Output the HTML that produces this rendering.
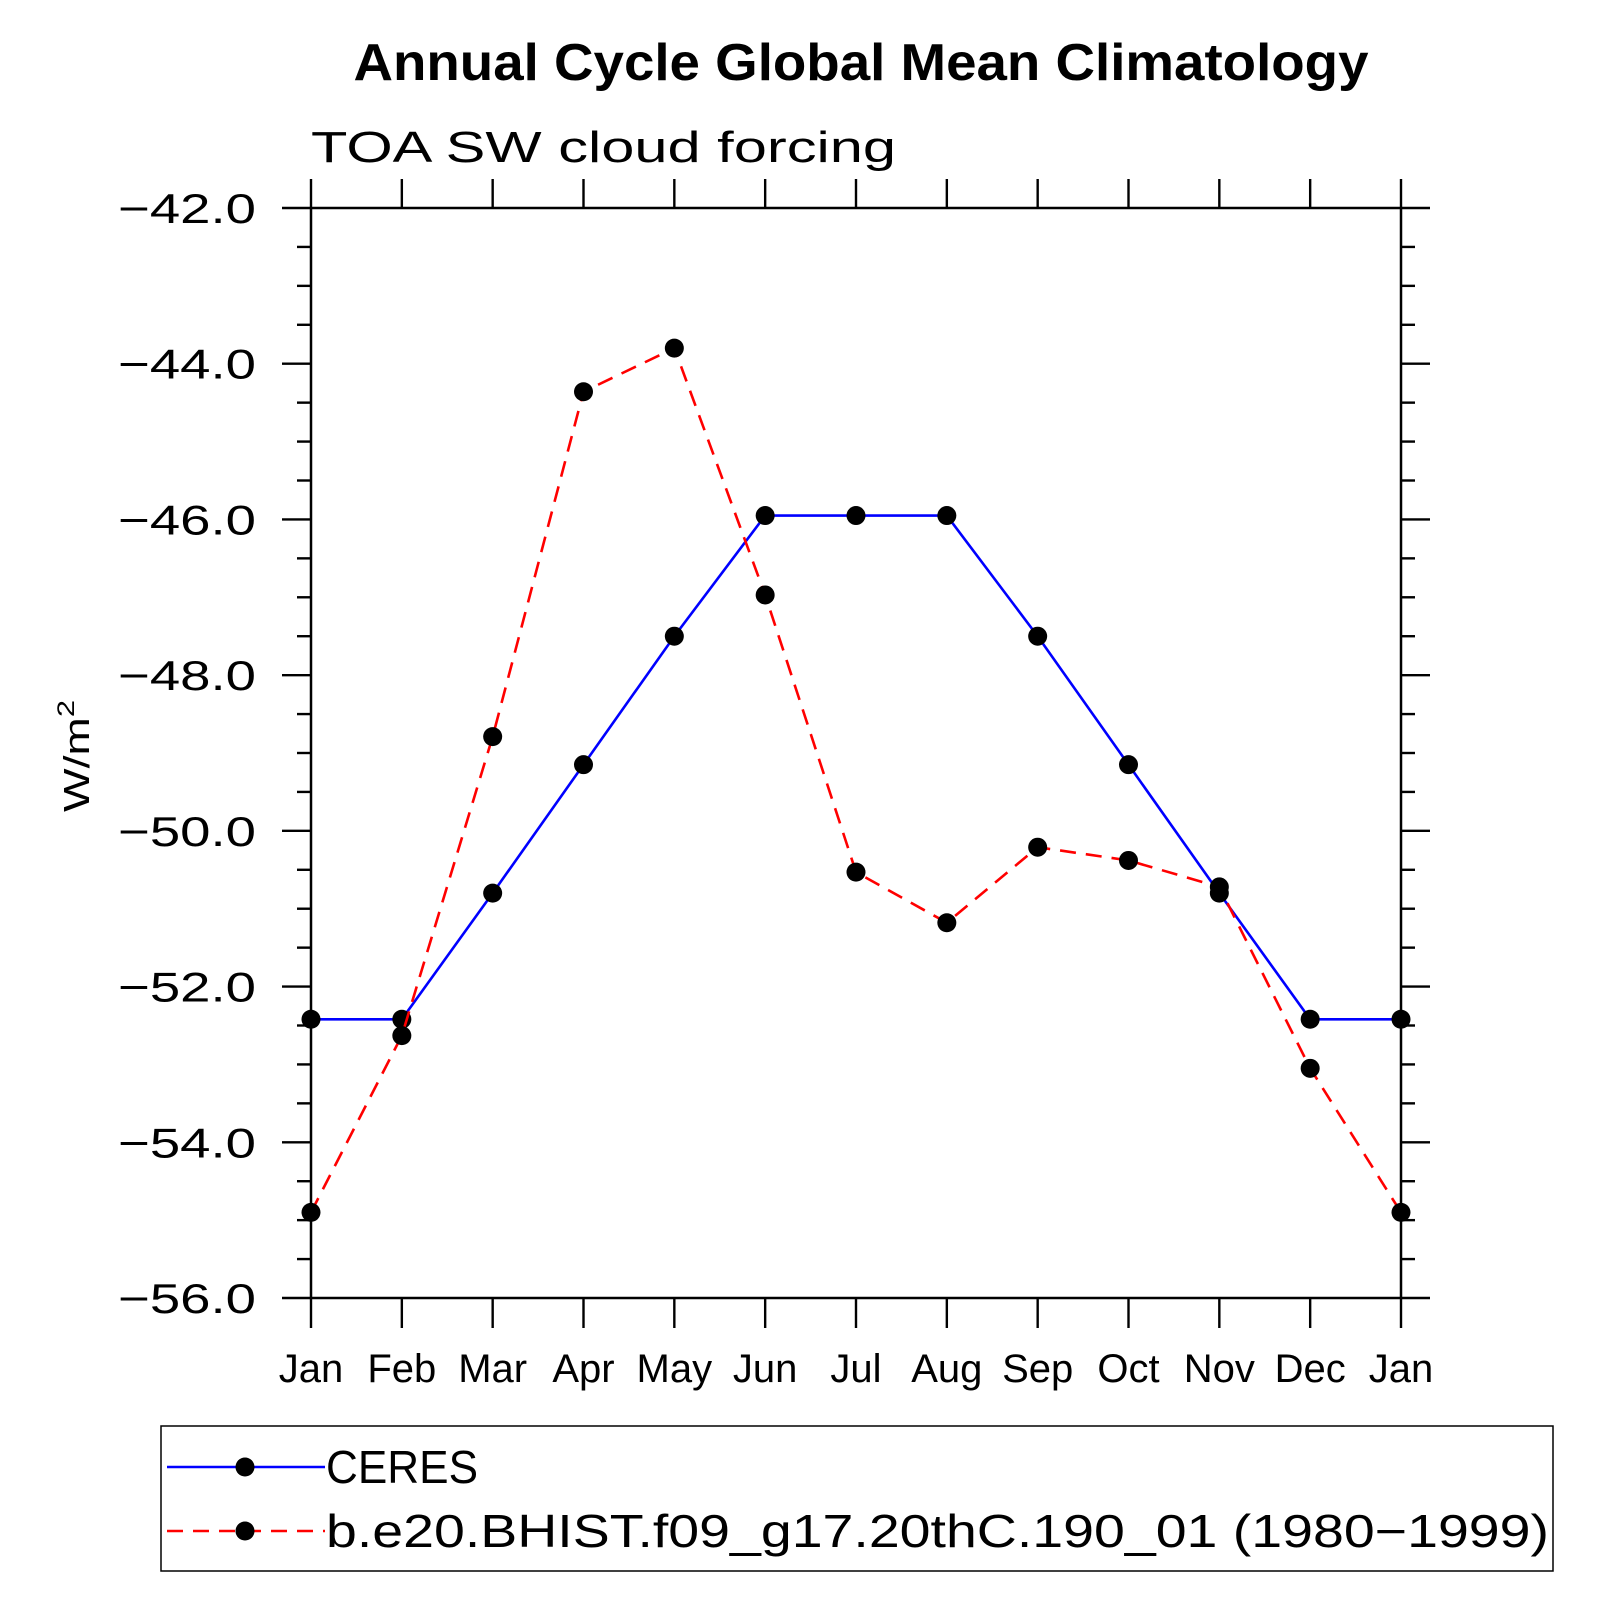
<!DOCTYPE html>
<html><head><meta charset="utf-8">
<style>
html,body{margin:0;padding:0;background:#fff;}
svg{display:block;}
text{font-family:"Liberation Sans",sans-serif;}
</style></head>
<body>
<svg id="chart" width="1608" height="1608" viewBox="0 0 1608 1608" xmlns="http://www.w3.org/2000/svg">
<text x="861" y="80" text-anchor="middle" font-size="52" font-weight="bold" textLength="1015" lengthAdjust="spacingAndGlyphs">Annual Cycle Global Mean Climatology</text>
<text x="311" y="162" font-size="44" textLength="585" lengthAdjust="spacingAndGlyphs">TOA SW cloud forcing</text>
<text transform="translate(89,756) rotate(-90)" text-anchor="middle" font-size="36" textLength="112" lengthAdjust="spacingAndGlyphs">W/m<tspan dy="-15" font-size="24">2</tspan></text>
<g id="axes"></g>
<g id="series"></g>
<g id="legend">
 <rect x="161" y="1426" width="1392" height="145" fill="none" stroke="#000" stroke-width="1.5"/>
 <g>
  <line x1="167" y1="1467" x2="325" y2="1467" stroke="#0000ff" stroke-width="2.5"/>
  <circle cx="245" cy="1467" r="9.5" fill="#000"/>
  <text x="326" y="1483" font-size="46" textLength="152" lengthAdjust="spacingAndGlyphs">CERES</text>
 </g>
 <g>
  <line x1="167" y1="1531" x2="325" y2="1531" stroke="#ff0000" stroke-width="2.5" stroke-dasharray="16,10"/>
  <circle cx="245" cy="1531" r="9.5" fill="#000"/>
  <text x="326" y="1547" font-size="46" textLength="1223" lengthAdjust="spacingAndGlyphs">b.e20.BHIST.f09_g17.20thC.190_01 (1980−1999)</text>
 </g>
</g>
</svg>
<script>
const months = ["Jan","Feb","Mar","Apr","May","Jun","Jul","Aug","Sep","Oct","Nov","Dec","Jan"];
const ceresValues = [-52.42,-52.42,-50.8,-49.15,-47.5,-45.95,-45.95,-45.95,-47.5,-49.15,-50.8,-52.42,-52.42];
const modelValues = [-54.9,-52.63,-48.79,-44.36,-43.8,-46.97,-50.53,-51.18,-50.21,-50.38,-50.72,-53.05,-54.9];
const yTickLabels = ["−42.0","−44.0","−46.0","−48.0","−50.0","−52.0","−54.0","−56.0"];
const yTickValues = [-42,-44,-46,-48,-50,-52,-54,-56];

const L=311,R=1401,T=208,B=1298,yMax=-42,yMin=-56;
const NS="http://www.w3.org/2000/svg";
function xs(i){return L+(R-L)*i/(months.length-1);}
function ys(v){return T+(yMax-v)/(yMax-yMin)*(B-T);}
function mk(tag,attrs,parent){const e=document.createElementNS(NS,tag);for(const k in attrs)e.setAttribute(k,attrs[k]);parent.appendChild(e);return e;}
const axes=document.getElementById('axes');
const series=document.getElementById('series');

const frame=mk('rect',{x:L,y:T,width:R-L,height:B-T,fill:'none',stroke:'#000','stroke-width':2.5},axes);



for(let v=-42;v>=-56;v-=0.5){
  const y=ys(v);
  const major=Math.abs(v-Math.round(v/2)*2)<1e-6;
  const len=major?29:14;
  const tl=mk('line',{x1:L-len,y1:y,x2:L,y2:y,stroke:'#000','stroke-width':2.4},axes);
  
  
  const tr=mk('line',{x1:R,y1:y,x2:R+len,y2:y,stroke:'#000','stroke-width':2.4},axes);
  
  
}
yTickValues.forEach((v,i)=>{
  const t=mk('text',{x:256,y:ys(v)+15,'text-anchor':'end','font-size':42,textLength:138,lengthAdjust:'spacingAndGlyphs'},axes);
  t.textContent=yTickLabels[i];
  
  
});
months.forEach((m,i)=>{
  const x=xs(i);
  const tb=mk('line',{x1:x,y1:B,x2:x,y2:B+30,stroke:'#000','stroke-width':2.4},axes);
  
  
  const tt=mk('line',{x1:x,y1:T-29,x2:x,y2:T,stroke:'#000','stroke-width':2.4},axes);
  
  
  const t=mk('text',{x:x,y:1382,'text-anchor':'middle','font-size':40},axes);
  t.textContent=m;
  
  
});

function drawSeries(vals,color,dash,name){
  const pts=vals.map((v,i)=>xs(i)+','+ys(v)).join(' ');
  const pl=mk('polyline',{points:pts,fill:'none',stroke:color,'stroke-width':2.6,'stroke-dasharray':dash},series);
  
  
  vals.forEach((v,i)=>{
    const c=mk('circle',{cx:xs(i),cy:ys(v),r:9.5,fill:'#000'},series);
    
    
  });
}
drawSeries(ceresValues,'#0000ff','none','ceres');
drawSeries(modelValues,'#ff0000','16,10','model');
</script>
</body></html>
